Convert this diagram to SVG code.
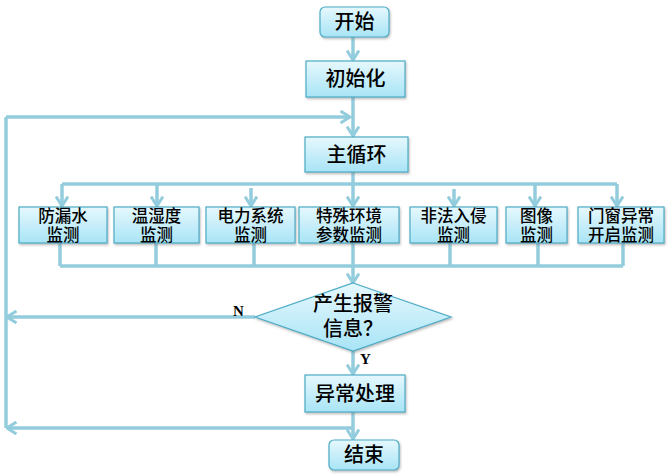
<svg xmlns="http://www.w3.org/2000/svg" width="671" height="476" viewBox="0 0 671 476">
<style>
.box{fill:url(#g);stroke:#4BACC6;stroke-width:1.2;filter:url(#sh)}
.t{font-family:"Liberation Sans","Noto Sans CJK SC",sans-serif;font-size:20px;fill:#000;text-anchor:middle;font-weight:500}
.s{font-size:16.5px}
.c{fill:none;stroke:#93CDDD;stroke-width:3.5}
.a{marker-end:url(#ar)}
.lbl{font-family:"Liberation Serif",serif;font-weight:bold;font-size:15px;fill:#000}
</style>
<defs>
<linearGradient id="g" x1="0" y1="0" x2="0" y2="1">
<stop offset="0" stop-color="#E6F8FD"/>
<stop offset="1" stop-color="#A8E4F6"/>
</linearGradient>
<filter id="sh" x="-10%" y="-10%" width="130%" height="140%">
<feDropShadow dx="1" dy="1.5" stdDeviation="1" flood-color="#777" flood-opacity="0.5"/>
</filter>
<marker id="ar" viewBox="0 0 12 14" refX="10.5" refY="7" markerWidth="12" markerHeight="14" markerUnits="userSpaceOnUse" orient="auto">
<path d="M1,1 L10.5,7 L1,13" fill="none" stroke="#93CDDD" stroke-width="3"/>
</marker>
</defs>
<g id="connectors">
<path class="c a" d="M353,37 V60"/>
<path class="c a" d="M353,97 V136"/>
<path class="c" d="M6,428 V117"/>
<path class="c a" d="M6,117 H350"/>
<path class="c" d="M353,172 V184"/>
<path class="c" d="M62,184 H617"/>
<path class="c a" d="M62,184 V206"/>
<path class="c a" d="M157,184 V206"/>
<path class="c a" d="M251,188 V206"/>
<path class="c a" d="M353,184 V206"/>
<path class="c a" d="M454,189 V206"/>
<path class="c a" d="M535,184 V206"/>
<path class="c a" d="M617,184 V206"/>
<path class="c" d="M60,243 V266 M156,243 V266 M254,243 V266 M450,243 V266 M538,243 V266 M623,243 V266"/>
<path class="c" d="M60,266 H623"/>
<path class="c a" d="M353,243 V283"/>
<path class="c a" d="M255,317 H7"/>
<path class="c a" d="M353,351 V374"/>
<path class="c a" d="M353,412 V439"/>
<path class="c a" d="M353,428 H7"/>
<text class="lbl" x="233" y="316">N</text>
<text class="lbl" x="360" y="364">Y</text>
</g>
<g id="start"><rect class="box" x="320" y="7" width="69" height="30" rx="5"/><text class="t" x="354.5" y="29">开始</text></g>
<g id="init"><rect class="box" x="306" y="61" width="99" height="36"/><text class="t" x="355.5" y="86">初始化</text></g>
<g id="mainloop"><rect class="box" x="305" y="137" width="103" height="35"/><text class="t" x="356.5" y="162">主循环</text></g>
<g id="n1"><rect class="box" x="19" y="207" width="88" height="36"/><text class="t s" x="63" y="222">防漏水</text><text class="t s" x="63" y="240.5">监测</text></g>
<g id="n2"><rect class="box" x="114" y="207" width="85" height="36"/><text class="t s" x="156.5" y="222">温湿度</text><text class="t s" x="156.5" y="240.5">监测</text></g>
<g id="n3"><rect class="box" x="206" y="207" width="89" height="36"/><text class="t s" x="250.5" y="222">电力系统</text><text class="t s" x="250.5" y="240.5">监测</text></g>
<g id="n4"><rect class="box" x="299" y="207" width="100" height="36"/><text class="t s" x="349" y="222">特殊环境</text><text class="t s" x="349" y="240.5">参数监测</text></g>
<g id="n5"><rect class="box" x="410" y="207" width="87" height="36"/><text class="t s" x="453.5" y="222">非法入侵</text><text class="t s" x="453.5" y="240.5">监测</text></g>
<g id="n6"><rect class="box" x="506" y="207" width="61" height="36"/><text class="t s" x="536.5" y="222">图像</text><text class="t s" x="536.5" y="240.5">监测</text></g>
<g id="n7"><rect class="box" x="578" y="207" width="86" height="36"/><text class="t s" x="621" y="222">门窗异常</text><text class="t s" x="621" y="240.5">开启监测</text></g>
<g id="decision"><polygon class="box" points="353,283 451,317 353,351 255,317"/><text class="t" x="353" y="311">产生报警</text><text class="t" x="353" y="336">信息？</text></g>
<g id="handle"><rect class="box" x="305" y="375" width="100" height="37"/><text class="t" x="355" y="401">异常处理</text></g>
<g id="end"><rect class="box" x="329" y="440" width="70" height="30" rx="5"/><text class="t" x="364" y="462">结束</text></g>
</svg>
